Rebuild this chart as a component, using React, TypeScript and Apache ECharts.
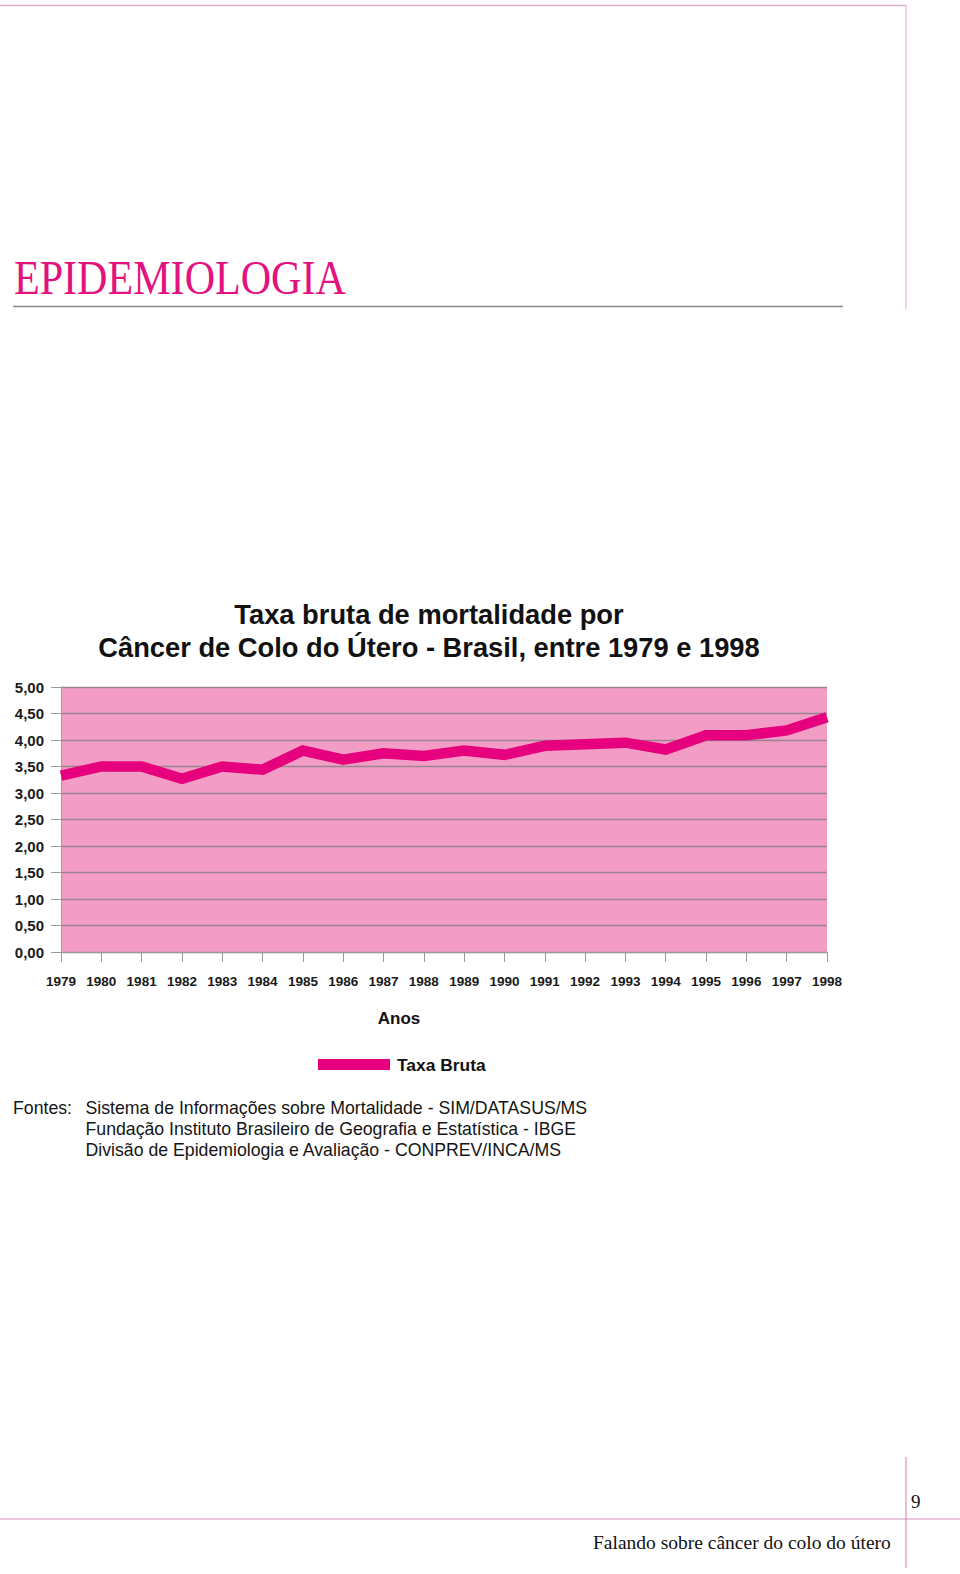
import React, { useEffect, useRef } from "react";
import * as echarts from "echarts";

const years: string[] = [
  "1979", "1980", "1981", "1982", "1983", "1984", "1985", "1986", "1987", "1988",
  "1989", "1990", "1991", "1992", "1993", "1994", "1995", "1996", "1997", "1998",
];
const taxaBruta: number[] = [
  3.33, 3.5, 3.5, 3.27, 3.5, 3.44, 3.8, 3.63, 3.75, 3.7,
  3.8, 3.72, 3.89, 3.92, 3.95, 3.82, 4.09, 4.09, 4.18, 4.43,
];
const seriesName = "Taxa Bruta";
const chartTitle = "Taxa bruta de mortalidade por\nCâncer de Colo do Útero - Brasil, entre 1979 e 1998";
const xAxisTitle = "Anos";
const sectionHeading = "EPIDEMIOLOGIA";
const sourcesLabel = "Fontes:";
const sources: string[] = [
  "Sistema de Informações sobre Mortalidade - SIM/DATASUS/MS",
  "Fundação Instituto Brasileiro de Geografia e Estatística - IBGE",
  "Divisão de Epidemiologia e Avaliação - CONPREV/INCA/MS",
];
const footerText = "Falando sobre câncer do colo do útero";
const pageNumber = "9";

const SANS = "'Liberation Sans', Arial, Helvetica, sans-serif";
const SERIF = "'Liberation Serif', 'Times New Roman', serif";

export default function App() {
  const ref = useRef<HTMLDivElement>(null);

  useEffect(() => {
    document.body.style.margin = "0";
    if (!ref.current) return;
    const chart = echarts.init(ref.current, undefined, { renderer: "svg" });

    const sourceTexts = sources.map((s, i) => ({
      type: "text",
      x: 85.5,
      y: 1108 + i * 21,
      style: {
        text: s,
        font: `17.7px ${SANS}`,
        fill: "#151515",
        textVerticalAlign: "middle",
      },
    }));

    chart.setOption({
      animation: false,
      backgroundColor: "#ffffff",
      title: {
        text: chartTitle,
        left: 424,
        top: 593,
        textAlign: "center",
        textStyle: {
          fontFamily: SANS,
          fontWeight: "bold",
          fontSize: 27.3,
          lineHeight: 33,
          color: "#111111",
        },
      },
      legend: {
        data: [seriesName],
        left: 318,
        top: 1056,
        padding: 0,
        icon: "rect",
        itemWidth: 72,
        itemHeight: 11,
        itemGap: 6,
        textStyle: {
          fontFamily: SANS,
          fontWeight: "bold",
          fontSize: 17.4,
          color: "#111111",
          padding: [0, 0, 0, 2],
        },
      },
      grid: {
        left: 61,
        right: 133,
        top: 687,
        bottom: 622,
        show: true,
        backgroundColor: "#F39CC5",
        borderWidth: 0,
      },
      xAxis: {
        type: "category",
        data: years,
        boundaryGap: false,
        axisLine: { show: true, lineStyle: { color: "#9a9a9a", width: 1 } },
        axisTick: { show: true, length: 10, lineStyle: { color: "#9a9a9a" } },
        axisLabel: {
          margin: 22,
          fontFamily: SANS,
          fontWeight: "bold",
          fontSize: 13.5,
          color: "#1a1a1a",
          interval: 0,
        },
        splitLine: { show: false },
      },
      yAxis: {
        type: "value",
        min: 0,
        max: 5,
        interval: 0.5,
        axisLine: { show: true, lineStyle: { color: "#9a9a9a", width: 1 } },
        axisTick: { show: true, length: 10, lineStyle: { color: "#9a9a9a" } },
        axisLabel: {
          margin: 17,
          fontFamily: SANS,
          fontWeight: "bold",
          fontSize: 15,
          color: "#1a1a1a",
          formatter: (v: number) => v.toFixed(2).replace(".", ","),
        },
        splitLine: { show: true, lineStyle: { color: "#998591", width: 1.3 } },
      },
      series: [
        {
          name: seriesName,
          type: "line",
          data: taxaBruta,
          symbol: "none",
          color: "#E6007E",
          itemStyle: { color: "#E6007E" },
          lineStyle: { color: "#E6007E", width: 10.5, cap: "butt", join: "miter" },
          z: 5,
        },
      ],
      graphic: [
        // page frame lines
        { type: "line", shape: { x1: 0, y1: 5.5, x2: 906, y2: 5.5 }, style: { stroke: "#D9AECB", lineWidth: 1.5 } },
        { type: "line", shape: { x1: 906, y1: 5, x2: 906, y2: 309 }, style: { stroke: "#EAA3D3", lineWidth: 1 } },
        { type: "line", shape: { x1: 13, y1: 306.5, x2: 843, y2: 306.5 }, style: { stroke: "#8a8a8a", lineWidth: 1.5 } },
        {
          type: "text",
          x: 14,
          y: 254,
          scaleX: 0.877,
          style: {
            text: sectionHeading,
            font: `48px ${SERIF}`,
            fill: "#E2127F",
            textVerticalAlign: "top",
          },
        },
        {
          type: "text",
          x: 399,
          y: 1018,
          style: {
            text: xAxisTitle,
            font: `bold 17px ${SANS}`,
            fill: "#111111",
            textAlign: "center",
            textVerticalAlign: "middle",
          },
        },
        {
          type: "text",
          x: 13,
          y: 1108,
          style: {
            text: sourcesLabel,
            font: `17.7px ${SANS}`,
            fill: "#151515",
            textVerticalAlign: "middle",
          },
        },
        ...sourceTexts,
        // footer
        { type: "line", shape: { x1: 906, y1: 1457, x2: 906, y2: 1568 }, style: { stroke: "#D57DB6", lineWidth: 1 } },
        { type: "line", shape: { x1: 0, y1: 1519, x2: 960, y2: 1519 }, style: { stroke: "#D98CBF", lineWidth: 1 } },
        {
          type: "text",
          x: 911,
          y: 1501,
          style: {
            text: pageNumber,
            font: `19px ${SERIF}`,
            fill: "#111111",
            textVerticalAlign: "middle",
          },
        },
        {
          type: "text",
          x: 593,
          y: 1542,
          style: {
            text: footerText,
            font: `19.5px ${SERIF}`,
            fill: "#111111",
            textVerticalAlign: "middle",
          },
        },
      ],
    });

    return () => {
      chart.dispose();
    };
  }, []);

  return (
    <div
      ref={ref}
      style={{ position: "absolute", left: 0, top: 0, width: 960, height: 1574 }}
    />
  );
}
